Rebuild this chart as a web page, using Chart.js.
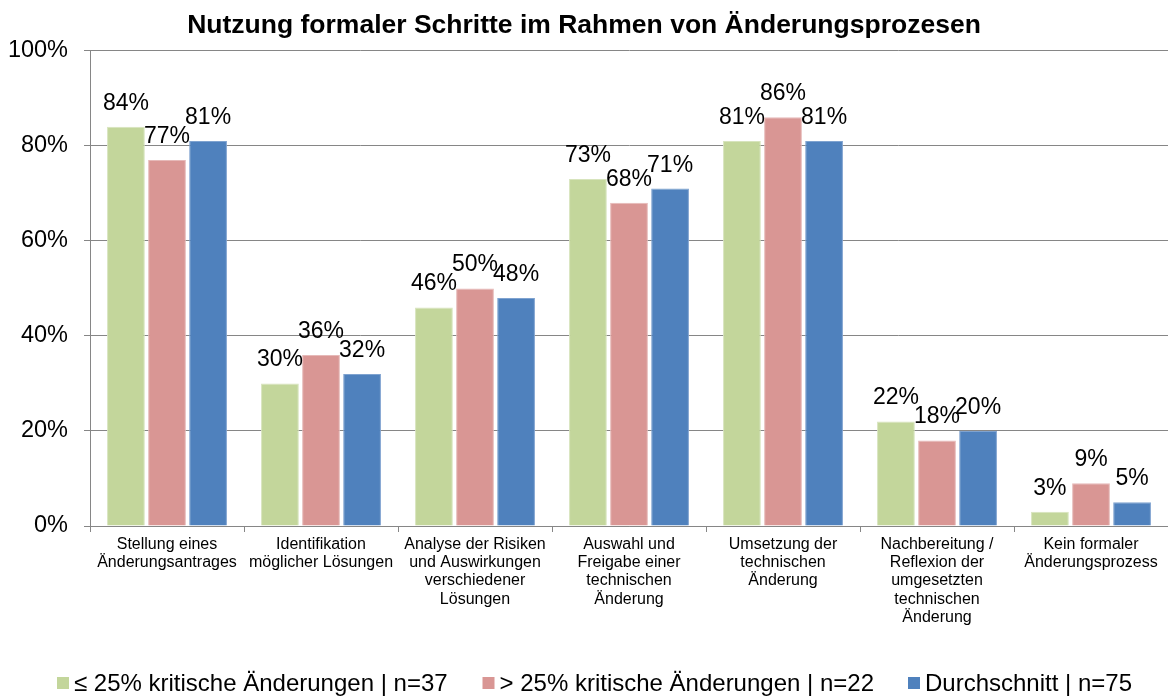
<!DOCTYPE html>
<html><head><meta charset="utf-8">
<script src="https://cdn.jsdelivr.net/npm/chart.js@4.4.1/dist/chart.umd.min.js"></script>
<style>html,body{margin:0;padding:0;background:#fff}#wrap{width:1168px;height:698px}</style>
</head><body><div id="wrap"><canvas id="c" width="1168" height="698"></canvas></div>
<script>
const categories = [
  ["Stellung eines","Änderungsantrages"],
  ["Identifikation","möglicher Lösungen"],
  ["Analyse der Risiken","und Auswirkungen","verschiedener","Lösungen"],
  ["Auswahl und","Freigabe einer","technischen","Änderung"],
  ["Umsetzung der","technischen","Änderung"],
  ["Nachbereitung /","Reflexion der","umgesetzten","technischen","Änderung"],
  ["Kein formaler","Änderungsprozess"]
];
const seriesNames = ["≤ 25% kritische Änderungen | n=37", "> 25% kritische Änderungen | n=22", "Durchschnitt | n=75"];
const lowCritical = [84, 30, 46, 73, 81, 22, 3];
const highCritical = [77, 36, 50, 68, 86, 18, 9];
const average = [81, 32, 48, 71, 81, 20, 5];
const yTicks = [0, 20, 40, 60, 80, 100];
const titleText = "Nutzung formaler Schritte im Rahmen von Änderungsprozesen";

const FONT = "'Liberation Sans', Arial, sans-serif";
const colors = ["#C3D69B", "#D99694", "#4F81BD"];
const borders = ["#D7E4BD", "#E6B9B8", "#7FA3D0"];

const labelPlugin = {
  id: 'valueLabels',
  afterDatasetsDraw(chart) {
    const ctx = chart.ctx;
    ctx.save();
    ctx.font = "23px " + FONT;
    ctx.fillStyle = "#000";
    ctx.textAlign = "center";
    ctx.textBaseline = "alphabetic";
    chart.data.datasets.forEach((ds, i) => {
      chart.getDatasetMeta(i).data.forEach((bar, j) => {
        ctx.fillText(ds.data[j] + "%", bar.x, bar.y - 17);
      });
    });
    ctx.restore();
  }
};

// legend drawn in equal-width columns below the axis labels
const legendPlugin = {
  id: 'columnLegend',
  afterDraw(chart) {
    const ctx = chart.ctx;
    ctx.save();
    ctx.font = "24px " + FONT;
    ctx.textBaseline = "middle";
    ctx.textAlign = "left";
    const startX = 57, colW = 425.5, cy = 683;
    chart.data.datasets.forEach((ds, i) => {
      const x = startX + i * colW;
      ctx.fillStyle = ds.backgroundColor;
      ctx.fillRect(x, cy - 6, 12, 12);
      ctx.fillStyle = "#000";
      ctx.fillText(ds.label, x + 17, cy + 1);
    });
    ctx.restore();
  }
};

new Chart(document.getElementById('c'), {
  type: 'bar',
  data: {
    labels: categories,
    datasets: [
      {label: seriesNames[0], data: lowCritical, backgroundColor: colors[0], borderColor: borders[0], borderWidth: 1},
      {label: seriesNames[1], data: highCritical, backgroundColor: colors[1], borderColor: borders[1], borderWidth: 1},
      {label: seriesNames[2], data: average, backgroundColor: colors[2], borderColor: borders[2], borderWidth: 1}
    ]
  },
  options: {
    responsive: false,
    animation: false,
    devicePixelRatio: 1,
    layout: {padding: {left: 0, right: 0, top: 0, bottom: 68}},
    datasets: {bar: {categoryPercentage: 0.8, barPercentage: 0.92}},
    plugins: {
      title: {display: true, text: titleText, color: "#000",
        font: {family: FONT, size: 26.5, weight: 'bold'}, padding: {top: 10, bottom: 9}},
      legend: {display: false},
      tooltip: {enabled: false}
    },
    scales: {
      x: {
        grid: {display: true, drawOnChartArea: false, color: "#868686", tickLength: 6, offset: true},
        border: {color: "#868686", width: 1},
        ticks: {color: "#000", font: {family: FONT, size: 16, lineHeight: 1.15}, maxRotation: 0, autoSkip: false, padding: 3}
      },
      y: {
        min: 0, max: 100,
        afterBuildTicks(s) { s.ticks = yTicks.map(v => ({value: v})); },
        afterFit(s) { s.width = 90; },
        grid: {color: "#868686", tickLength: 6},
        border: {color: "#868686", width: 1},
        ticks: {color: "#000", font: {family: FONT, size: 23.5}, padding: 16, callback: v => v + "%"}
      }
    }
  },
  plugins: [labelPlugin, legendPlugin]
});
</script></body></html>
